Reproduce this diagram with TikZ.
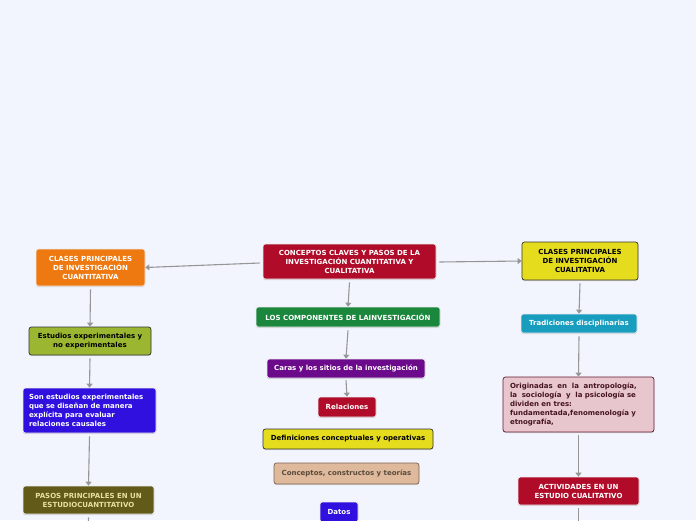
\documentclass[tikz,border=0pt]{standalone}
\usepackage{fontspec}
\setmainfont{DejaVu Sans}
\usepackage{xcolor}
\usepackage{tikz}
\usetikzlibrary{arrows.meta, shadows}
\definecolor{bgpaper}{RGB}{243,245,254}
\definecolor{crimsonred}{RGB}{176,12,42}
\definecolor{brightorange}{RGB}{238,121,16}
\definecolor{lemonyellow}{RGB}{230,220,30}
\definecolor{leafgreen}{RGB}{26,135,60}
\definecolor{deeppurple}{RGB}{107,10,138}
\definecolor{sandtan}{RGB}{222,185,155}
\definecolor{royalblue}{RGB}{48,16,222}
\definecolor{olivegreen}{RGB}{155,183,50}
\definecolor{darkolive}{RGB}{98,90,24}
\definecolor{tealblue}{RGB}{24,157,190}
\definecolor{softpink}{RGB}{232,198,205}
\definecolor{linegray}{RGB}{150,150,150}
\tikzstyle{topic} = [rectangle, rounded corners=2.5pt, text centered, align=center, inner sep=2pt, font=\fontsize{7}{9}\selectfont\bfseries, drop shadow={shadow xshift=0pt, shadow yshift=-1.2pt, opacity=0.25}]
\tikzstyle{lighttopic} = [topic, draw=white!85!gray, line width=0.6pt, text=white]
\tikzstyle{darktopic} = [topic, draw=black!80, line width=0.7pt, text=black]
\tikzstyle{arrow} = [draw=linegray, line width=1.1pt, -{Triangle[width=6pt,length=4pt]}]

\begin{document}
\begin{tikzpicture}[x=1pt, y=-1pt]

\useasboundingbox (0,0) rectangle (696,520);
\fill[bgpaper] (0,0) rectangle (696,520);
\clip (0,0) rectangle (696,520);

% Central topic
\node (root) [lighttopic, fill=crimsonred, minimum width=173pt, minimum height=35pt] at (349.5,261.5) {CONCEPTOS CLAVES Y PASOS DE LA\\INVESTIGACIÓN CUANTITATIVA Y\\CUALITATIVA};

% Left branch
\node (cuanti) [lighttopic, fill=brightorange, minimum width=109pt, minimum height=37pt] at (90.5,267.5) {CLASES PRINCIPALES\\DE INVESTIGACIÓN\\CUANTITATIVA};
\node (estudios) [darktopic, fill=olivegreen, minimum width=122pt, minimum height=28pt] at (90,341) {Estudios experimentales y\\no experimentales};
\node (causales) [lighttopic, fill=royalblue, minimum width=133pt, minimum height=45pt, align=left, text width=121pt] at (89.5,410.5) {Son estudios experimentales\\que se diseñan de manera\\explícita para evaluar\\relaciones causales};
\node (pasos) [lighttopic, fill=darkolive, text={rgb,255:red,232;green,224;blue,160}, minimum width=131pt, minimum height=28pt] at (88.5,500) {PASOS PRINCIPALES EN UN\\ESTUDIOCUANTITATIVO};
\coordinate (pasosnext) at (88,535);

% Middle branch
\node (componentes) [lighttopic, fill=leafgreen, minimum width=184pt, minimum height=20pt] at (348,317) {LOS COMPONENTES DE LAINVESTIGACIÓN};
\node (caras) [lighttopic, fill=deeppurple, minimum width=158pt, minimum height=19pt] at (346,368.5) {Caras y los sitios de la investigación};
\node (relaciones) [lighttopic, fill=crimsonred, minimum width=58pt, minimum height=20pt] at (347,407) {Relaciones};
\node (definiciones) [darktopic, fill=lemonyellow, minimum width=170pt, minimum height=20pt] at (348,439) {Definiciones conceptuales y operativas};
\node (conceptos) [topic, fill=sandtan, draw=black!45!sandtan, line width=0.7pt, text={rgb,255:red,90;green,75;blue,60}, minimum width=145pt, minimum height=21pt] at (346.5,473.5) {Conceptos, constructos y teorías};
\node (datos) [lighttopic, fill=royalblue, minimum width=38pt, minimum height=20pt] at (339,512) {Datos};

% Right branch
\node (cuali) [darktopic, fill=lemonyellow, minimum width=116pt, minimum height=38pt] at (580,261) {CLASES PRINCIPALES\\DE INVESTIGACIÓN\\CUALITATIVA};
\node (tradiciones) [lighttopic, fill=tealblue, minimum width=116pt, minimum height=19pt] at (579,323.5) {Tradiciones disciplinarias};
\node (originadas) [topic, fill=softpink, draw={rgb,255:red,100;green,25;blue,45}, line width=0.7pt, text={rgb,255:red,70;green,20;blue,30}, minimum width=151pt, minimum height=55pt, align=left, text width=137pt] at (578.5,404.5) {Originadas\ \ en\ \ la\ \ antropología,\\la\ \ sociología\ \ y\ \ la psicología se\\dividen en tres:\\fundamentada,fenomenología y\\etnografía,};
\node (actividades) [lighttopic, fill=crimsonred, minimum width=121pt, minimum height=28pt] at (578.5,491) {ACTIVIDADES EN UN\\ESTUDIO CUALITATIVO};
\coordinate (actividadesnext) at (578.5,535);

% Arrows
\draw [arrow] (root.west) ++(-3,1.5) -- (cuanti.east);
\draw [arrow] (root.east) ++(3,0.5) -- (cuali.west);
\draw [arrow] (root.south) ++(0,3) -- (componentes.north);
\draw [arrow] (componentes.south) ++(0,3) -- (caras.north);
\draw [arrow] (caras.south) ++(0,2) -- (relaciones.north);
\draw [arrow] (cuanti.south) ++(0,3) -- (estudios.north);
\draw [arrow] (estudios.south) ++(0,3) -- (causales.north);
\draw [arrow] (causales.south) ++(0,3) -- (pasos.north);
\draw [draw=linegray, line width=1.1pt] (pasos.south) ++(0,3) -- (pasosnext);
\draw [arrow] (cuali.south) ++(0,3) -- (tradiciones.north);
\draw [arrow] (tradiciones.south) ++(0,3) -- (originadas.north);
\draw [arrow] (originadas.south) ++(0,3) -- (actividades.north);
\draw [draw=linegray, line width=1.1pt] (actividades.south) ++(0,3) -- (actividadesnext);

\end{tikzpicture}
\end{document}
